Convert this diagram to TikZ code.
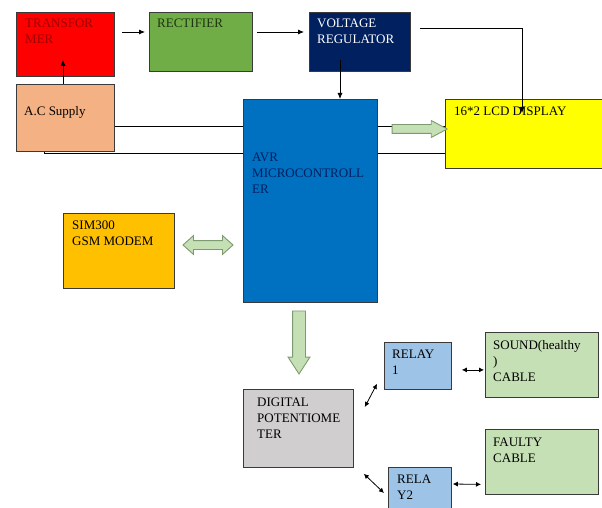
\documentclass[tikz,border=0pt]{standalone}
\usepackage{fontspec}
\setmainfont{Liberation Serif}
\usepackage{xcolor}
\usetikzlibrary{arrows.meta,backgrounds,calc,shapes.arrows}
\definecolor{Edge}{HTML}{3A3A3A}
\definecolor{Trans}{HTML}{FF0000}
\definecolor{TransText}{HTML}{A00000}
\definecolor{Rect}{HTML}{70AD47}
\definecolor{RectText}{HTML}{1E3510}
\definecolor{Navy}{HTML}{002060}
\definecolor{Peach}{HTML}{F4B183}
\definecolor{Micro}{HTML}{0070C0}
\definecolor{Lcd}{HTML}{FFFF00}
\definecolor{Gsm}{HTML}{FFC000}
\definecolor{Pot}{HTML}{D0CECE}
\definecolor{Relay}{HTML}{9DC3E6}
\definecolor{Cable}{HTML}{C5E0B4}
\definecolor{FatEdge}{HTML}{7E9A70}
% lines set from the baseline of the first one
\newcommand{\boxlines}[1]{\begin{tabular}[t]{@{}l@{}}#1\end{tabular}}

\begin{document}
\begin{tikzpicture}[
  x=1pt,y=-1pt,
  box/.style={draw=Edge,line width=0.8pt,anchor=north west,inner sep=0pt},
  txt/.style={anchor=base west,inner sep=0pt,font=\fontsize{13}{16}\selectfont},
  arrow/.style={-{Latex[length=6pt,width=5pt]},line width=0.8pt,draw=black},
  twoway/.style={{Latex[length=5pt,width=5pt]}-{Latex[length=5pt,width=5pt]},line width=0.8pt,draw=black},
  wire/.style={line width=0.8pt,draw=black},
  fat/.style={draw=FatEdge,fill=Cable,line width=0.9pt}
]
  \useasboundingbox (0,0) rectangle (602,508);

  % power path
  \node[box,fill=Trans,minimum width=98,minimum height=64] (trans) at (16,12) {};
  \node[txt,text=TransText] at ($(trans.north west)+(9,16)$) {\boxlines{TRANSFOR\\MER}};
  \node[box,fill=Rect,minimum width=103,minimum height=59] (rect) at (149,12) {};
  \node[txt,text=RectText] at ($(rect.north west)+(8,16)$) {RECTIFIER};
  \node[box,fill=Navy,minimum width=101,minimum height=59] (vreg) at (309,12) {};
  \node[txt,text=white] at ($(vreg.north west)+(8,16)$) {\boxlines{VOLTAGE\\REGULATOR}};
  \node[box,fill=Peach,minimum width=98,minimum height=67] (ac) at (16,84) {};
  \node[txt] at ($(ac.north west)+(8,32)$) {A.C Supply};

  % controller and display
  \node[box,fill=Micro,minimum width=134,minimum height=203] (avr) at (243,99) {};
  \node[txt,text=Navy] at ($(avr.north west)+(9,62)$) {\boxlines{AVR\\MICROCONTROLL\\ER}};
  \node[box,fill=Lcd,minimum width=157,minimum height=69] (lcd) at (445,99) {};
  \node[txt] at ($(lcd.north west)+(9,17)$) {16*2 LCD DISPLAY};
  \node[box,fill=Gsm,minimum width=111,minimum height=75] (gsm) at (63,213) {};
  \node[txt] at ($(gsm.north west)+(9,16)$) {\boxlines{SIM300\\GSM MODEM}};

  % output side
  \node[box,fill=Pot,minimum width=110,minimum height=78] (pot) at (243,389) {};
  \node[txt] at ($(pot.north west)+(14,17)$) {\boxlines{DIGITAL\\POTENTIOME\\TER}};
  \node[box,fill=Relay,minimum width=67,minimum height=47] (relay1) at (384,342) {};
  \node[txt] at ($(relay1.north west)+(8,16)$) {\boxlines{RELAY\\1}};
  \node[box,fill=Relay,minimum width=63,minimum height=50] (relay2) at (388,467) {};
  \node[txt] at ($(relay2.north west)+(9,16)$) {\boxlines{RELA\\Y2}};
  \node[box,fill=Cable,minimum width=113,minimum height=65] (sound) at (485,332) {};
  \node[txt] at ($(sound.north west)+(8,17)$) {\boxlines{SOUND(healthy\\)\\CABLE}};
  \node[box,fill=Cable,minimum width=113,minimum height=65] (faulty) at (485,429) {};
  \node[txt] at ($(faulty.north west)+(8,17)$) {\boxlines{FAULTY\\CABLE}};

  % wires behind the controller
  \begin{scope}[on background layer]
    \draw[wire] ($(ac.north east)+(0,42)$) -- ($(lcd.north west)+(0,27)$);
    \draw[wire] ($(ac.south west)+(28,0)$) |- ($(lcd.south west)+(0,-15)$);
  \end{scope}

  \draw[arrow] ($(trans.north east)+(7,20)$) -- ($(rect.north west)+(-4,20)$);
  \draw[arrow] ($(rect.north east)+(4,20)$) -- ($(vreg.north west)+(-5,20)$);
  \draw[arrow] ($(ac.north west)+(47,0)$) -- ($(trans.south west)+(47,-17)$);
  \draw[arrow] ($(vreg.south west)+(31,-12)$) coordinate (vdrop) -- (vdrop |- avr.north);
  \draw[arrow] ($(vreg.north east)+(9,16)$) -| ($(lcd.north west)+(77,14)$);

  % bus arrows
  \node[fat,single arrow,inner sep=4pt,single arrow head extend=4pt,single arrow tip angle=56,
        minimum height=55] (bus) at (415.5,129) {};
  \node[fat,double arrow,inner sep=4pt,double arrow head extend=5pt,double arrow tip angle=84,
        minimum height=50] (gsmbus) at (208,245) {};
  \node[fat,single arrow,shape border rotate=270,inner sep=6pt,single arrow head extend=4.5pt,
        single arrow tip angle=66,minimum height=63] (potbus) at (299,337.5) {};

  \draw[twoway] ($(pot.north east)+(11,18)$) -- ($(relay1.south west)+(-7,-6)$);
  \draw[twoway] ($(pot.south east)+(10,6)$) -- ($(relay2.north west)+(-4,26)$);
  \draw[twoway] ($(relay1.east)+(10,4)$) -- ($(sound.west)+(-1,5)$);
  \draw[twoway] ($(relay2.north east)+(1,17)$) -- ($(faulty.west)+(-4,22.5)$);
\end{tikzpicture}
\end{document}
